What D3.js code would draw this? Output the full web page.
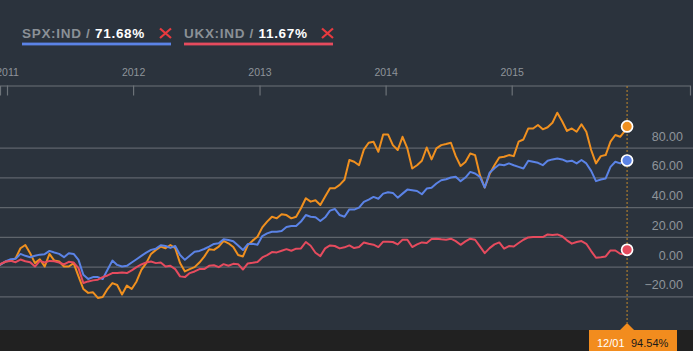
<!DOCTYPE html>
<html><head><meta charset="utf-8">
<script src="https://cdn.jsdelivr.net/npm/d3@7"></script>
<style>
html,body{margin:0;padding:0;background:#2b333d;overflow:hidden;}
svg{display:block;font-family:"Liberation Sans",Arial,sans-serif;}
</style></head><body>
<svg id="c" width="693" height="351"></svg>
<script>
// ---- data ----
const startDate = "2010-12-01";
const stepDays = 14;
const endDate = "2015-12-01";
const endLabel = "12/01";
const yearTicks = ["2011-01-01","2012-01-01","2013-01-01","2014-01-01","2015-01-01"];
const yTicks = [-20, 0, 20, 40, 60, 80];
const legendNames = ["SPX:IND", "UKX:IND"];
const finalValues = [94.54, 71.68, 11.67]; // main, SPX, UKX

const mainValues = [
  0, 2, 3.8, 4.4, 6, 12.7, 14.9, 9.3, 2.7, 5.3,
  0.4, 8.9, 4.4, 3.8, 0.4, 0.4, 2.7, -6.2, -14.7, -17.3,
  -16.9, -20.7, -20, -14.7, -10.7, -12, -18.4, -12.4, -14.7, -9.6,
  -1.8, 2.7, 8.9, 11.6, 13.8, 12.7, 14.9, 12.7, 2.7, -2.9,
  -1.3, 0, 3.1, 7.1, 12, 11.6, 13.8, 17.6, 16, 13.5,
  8.1, 7.2, 14.8, 17.8, 20.4, 26.7, 30.6, 33.9, 32.8, 35.5,
  35, 32.8, 33.9, 39.6, 46.3, 44, 45, 41.8, 47.4, 53,
  53, 55.3, 58.7, 72, 70.8, 68.5, 79, 83.6, 84.3, 77.5,
  89.2, 89.2, 82, 78.7, 87.6, 79.8, 66.3, 68.5, 71.5, 80.4,
  72.4, 79.8, 82, 82.7, 83.6, 74.6, 68, 70.7, 76.4, 75.3,
  61.8, 53.5, 62.5, 68.5, 73.7, 74.2, 75.3, 74.6, 84.3, 85.8,
  93.2, 93.2, 95.5, 92.6, 94, 97, 103.8, 98, 91.5, 93.2,
  91, 96, 91, 78.7, 69.7, 74.6, 75.3, 84.3, 88.8, 87.6,
  91.7
];
const spxValues = [
  0, 2, 4, 5.3, 5.6, 8.9, 7.6, 6.7, 7.6, 8.4,
  8.7, 10.9, 9.8, 8.9, 6.7, 9.3, 8.9, 4.9, -5.1, -8,
  -6.7, -6.7, -8, -1.8, 4.4, 1.5, 0.4, 0.9, 3.1, 5.3,
  7.6, 9.8, 11.6, 12.4, 14.7, 14.2, 12.9, 14.2, 8.2, 4.9,
  7.6, 10.4, 10.9, 12.2, 13.8, 15.6, 16, 18.7, 18.2, 17.4,
  14.6, 11.5, 15.5, 15.7, 15, 20.9, 22.7, 23.8, 23.8, 24.3,
  27, 27.6, 27.6, 30.6, 35, 33.9, 33.5, 31, 33.5, 38,
  39.1, 35, 33.9, 38.8, 38.7, 40, 43.8, 45.4, 47.2, 46,
  49.4, 50.3, 49.9, 46.7, 49.4, 52.1, 51.7, 51.2, 49, 52.8,
  53.3, 56.2, 58.4, 59.1, 60.2, 60.7, 57.8, 60.2, 64, 62.9,
  60.7, 53.5, 63.4, 66.5, 69, 68.5, 69.7, 68.5, 67.4, 66.3,
  71.5, 70.8, 70.1, 68.5, 71.5, 72.4, 73, 72.4, 71, 71.5,
  69.7, 72, 69.7, 64.7, 57.8, 58.9, 59.6, 67.4, 70.8, 69.7,
  71.9
];
const ukxValues = [
  0, 2.4, 3.8, 4.2, 3.3, 5.1, 4, 3.3, 0.4, 4.2,
  3.1, 4.2, 4, 3.1, 1.8, 3.6, 3.1, -0.7, -10.7, -9.6,
  -8.9, -8.4, -6.7, -5.6, -4, -4, -3.6, -4, -2.2, 0,
  1.8, 3.1, 3.8, 2.7, 3.1, 0.4, 0.9, -1.3, -6.2, -6.7,
  -4, -2.9, -1.3, -1.3, 0.9, 1.3, 0, 2, 0.9, 2.2,
  2, -1.6, 2.5, 2.9, 3.4, 6.5, 8.1, 10.1, 9.9, 11,
  12.1, 11, 12.4, 12.6, 16.9, 14.4, 9.7, 7.4, 12.6, 14.6,
  14.2, 12.6, 13.3, 14.6, 12.8, 13.5, 16.6, 15.7, 15.1, 13.5,
  17.1, 17.1, 16.9, 15.3, 18.4, 18.4, 13.5, 15.3, 16.6, 16.2,
  18.9, 19.1, 18.7, 18.4, 19.1, 17.5, 15, 17.3, 19.1, 18.4,
  13.9, 9.4, 12.8, 15.3, 16.6, 12.4, 14.2, 13.9, 16.2, 18.4,
  20, 20.2, 20.2, 20.2, 22, 21.6, 22, 20.8, 18, 15.8,
  16.9, 17.5, 15.7, 10.8, 6.3, 6.7, 7.2, 11.2, 11.2, 9,
  8.5
];

// ---- colours ----
const C = {
  bg: "#2b333d", strip: "#212121", grid: "#5f656c", axis: "#6c7278",
  label: "#8e949a", main: "#f0901f", spx: "#5b83e6", ukx: "#e64b5e",
  cross: "#e83a3f", tip: "#f28c1e"
};

const svg = d3.select("#c");
const W = 693, H = 351;
svg.append("rect").attr("width", W).attr("height", H).attr("fill", C.bg);

const parse = d3.utcParse("%Y-%m-%d");
const t0 = parse(startDate);
const tEnd = parse(endDate);
const dates = mainValues.map((_, i) => d3.utcDay.offset(t0, stepDays * i));

const x = d3.scaleUtc().domain([parse("2011-01-01"), parse("2015-01-01")]).range([7, 511.7]);
const y = d3.scaleLinear().domain([-20, 80]).range([296.9, 148.1]);

// gridlines + labels
const grid = svg.append("g");
grid.selectAll("line").data(yTicks).join("line")
  .attr("x1", 0).attr("x2", W)
  .attr("y1", d => y(d)).attr("y2", d => y(d))
  .attr("stroke", C.grid).attr("stroke-width", 1.3);
grid.selectAll("text").data(yTicks).join("text")
  .attr("x", 683).attr("y", d => y(d) - 7.5)
  .attr("text-anchor", "end").attr("fill", C.label)
  .attr("font-size", "12.5px")
  .text(d => d3.format(".2f")(d));

// top time axis
const axScale = x.copy().domain([x.invert(0), x.invert(690)]).range([0, 690]);
const axis = d3.axisBottom(axScale)
  .tickValues(yearTicks.map(parse))
  .tickFormat(d3.utcFormat("%Y"))
  .tickSizeInner(10).tickSizeOuter(10).tickPadding(0);
const ag = svg.append("g").attr("transform", "translate(0,85.5)").call(axis);
ag.select(".domain").attr("stroke", C.axis).attr("stroke-width", 1.2);
ag.selectAll(".tick line").attr("stroke", C.axis).attr("stroke-width", 1.2);
ag.selectAll(".tick text").attr("y", -10).attr("dy", 0)
  .attr("fill", C.label).attr("font-size", "10.5px")
  .attr("font-family", "'Liberation Sans',Arial,sans-serif");

// bottom strip
svg.append("rect").attr("x", 0).attr("y", 330).attr("width", W).attr("height", H - 330).attr("fill", C.strip);

// dotted guide
const xe = x(tEnd);
svg.append("line").attr("x1", xe).attr("x2", xe).attr("y1", 86).attr("y2", 323)
  .attr("stroke", "#c38a2c").attr("stroke-width", 1).attr("stroke-dasharray", "2,2");

// lines
const line = d3.line().x(d => x(d[0])).y(d => y(d[1]));
const seriesList = [
  {vals: mainValues, color: C.main, fin: finalValues[0]},
  {vals: spxValues, color: C.spx, fin: finalValues[1]},
  {vals: ukxValues, color: C.ukx, fin: finalValues[2]}
];
seriesList.forEach(s => {
  const pts = s.vals.map((v, i) => [dates[i], v]);
  pts.push([tEnd, s.fin]);
  svg.append("path").datum(pts).attr("d", line)
    .attr("fill", "none").attr("stroke", s.color)
    .attr("stroke-width", 2).attr("stroke-linejoin", "round");
});
seriesList.forEach(s => {
  svg.append("circle").attr("cx", x(tEnd)).attr("cy", y(s.fin)).attr("r", 5.5)
    .attr("fill", s.color).attr("stroke", "#ffffff").attr("stroke-width", 1.7);
});

// tooltip
svg.append("rect").attr("x", 589).attr("y", 330).attr("width", 88).attr("height", 21).attr("fill", C.tip);
svg.append("path").attr("d", d3.line()([[xe - 7, 330], [xe, 323], [xe + 7, 330]]) + "Z").attr("fill", C.tip);
const tt = svg.append("text").attr("x", 597).attr("y", 346.5).attr("font-size", "11px");
tt.append("tspan").attr("fill", "#ffffff").text(endLabel);
tt.append("tspan").attr("fill", "#1a1a1a").attr("x", 631).text(d3.format(".2f")(finalValues[0]) + "%");

// legend
const legend = [
  {name: legendNames[0], val: finalValues[1], color: C.spx, x0: 22, x1: 171},
  {name: legendNames[1], val: finalValues[2], color: C.ukx, x0: 184, x1: 333}
];
legend.forEach(l => {
  const t = svg.append("text").attr("x", l.x0).attr("y", 37.7)
    .attr("font-size", "13.5px").attr("font-weight", "bold").attr("letter-spacing", "0.7px");
  t.append("tspan").attr("fill", "#8a9096").text(l.name + " / ");
  t.append("tspan").attr("fill", "#ffffff").text(d3.format(".2f")(l.val) + "%");
  svg.append("rect").attr("x", l.x0).attr("y", 42.6).attr("width", l.x1 - l.x0).attr("height", 2.8).attr("fill", l.color);
  const cx0 = l.x1 - 11, cy0 = 28.5;
  svg.append("path").attr("d", `M${cx0},${cy0}L${cx0 + 11},${cy0 + 9.5}M${cx0 + 11},${cy0}L${cx0},${cy0 + 9.5}`)
    .attr("stroke", C.cross).attr("stroke-width", 2.2).attr("fill", "none");
});
</script>
</body></html>
